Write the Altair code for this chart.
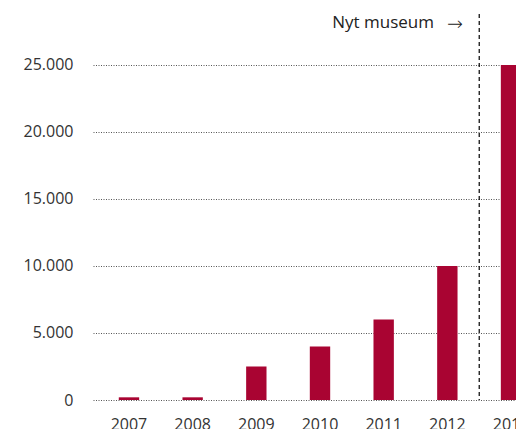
import altair as alt
import pandas as pd

years = ["2007", "2008", "2009", "2010", "2011", "2012", "2013"]
visitors = [200, 200, 2500, 4000, 6000, 10000, 25000]
y_ticks = [0, 5000, 10000, 15000, 20000, 25000]
marker_year = "2013"
marker_text = "Nyt museum"
marker_arrow = "\u2192"

df = pd.DataFrame({"year": years, "value": visitors})
mk = pd.DataFrame({"year": [marker_year], "label": [marker_text], "arrow": [marker_arrow]})

FONT = "Open Sans"

x_enc = alt.X(
    "year:O",
    sort=years,
    title=None,
    scale=alt.Scale(paddingInner=0.68, paddingOuter=0.405, range=[0, 454]),
    axis=alt.Axis(labelAngle=0, domain=False, ticks=False, grid=False,
                  labelPadding=16, labelFontSize=16, labelColor="#333333",
                  labelFont=FONT),
)

bars = alt.Chart(df).mark_bar(color="#A90432").encode(
    x=x_enc,
    y=alt.Y(
        "value:Q",
        title=None,
        scale=alt.Scale(domain=[0, 28800], nice=False),
        axis=alt.Axis(values=y_ticks, format=",.0f", domain=False, ticks=False,
                      labelPadding=20, labelFontSize=16, labelColor="#333333",
                      labelFont=FONT,
                      grid=True, gridColor="#555555", gridDash=[1, 1.5],
                      gridWidth=1),
    ),
)

rule = alt.Chart(mk).mark_rule(color="#000000", strokeDash=[4, 3], strokeWidth=1.2,
                               xOffset=-31.8).encode(
    x=alt.X("year:O", sort=years),
    y=alt.value(0),
    y2=alt.value(386),
)

text = alt.Chart(mk).mark_text(align="right", baseline="middle", fontSize=17,
                               font=FONT, color="#222222",
                               xOffset=-77).encode(
    x=alt.X("year:O", sort=years),
    y=alt.value(9),
    text="label:N",
)

arrow = alt.Chart(mk).mark_text(align="right", baseline="middle", fontSize=19,
                                font="DejaVu Sans", fontWeight=200, color="#222222",
                                xOffset=-48).encode(
    x=alt.X("year:O", sort=years),
    y=alt.value(10),
    text="arrow:N",
)

chart = (
    alt.layer(bars, rule, text, arrow)
    .properties(
        width=423,
        height=386,
        autosize=alt.AutoSizeParams(type="none"),
        padding={"left": 85, "top": 6, "right": 0, "bottom": 29},
    )
    .configure(
        locale={"number": {"decimal": ",", "thousands": ".", "grouping": [3], "currency": ["", " kr."]}},
        view=alt.ViewConfig(stroke="transparent", strokeWidth=0),
    )
)

chart.save("out.html", embed_options={"renderer": "svg", "actions": False})
